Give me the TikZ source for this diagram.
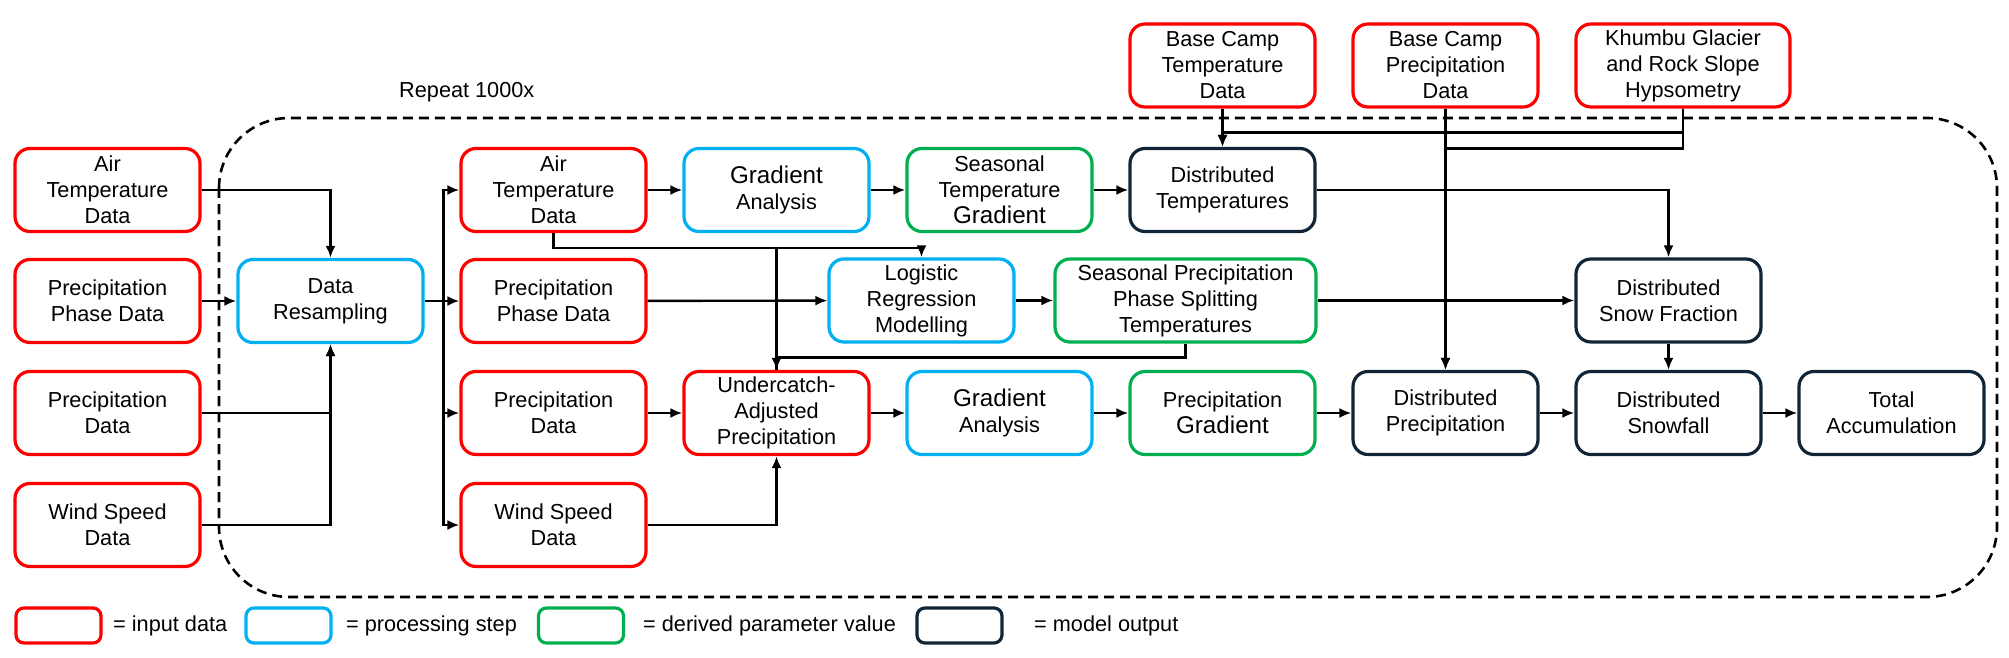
\documentclass[tikz,border=0pt]{standalone}
\usepackage{fontspec}
\setmainfont{Liberation Sans}
\usetikzlibrary{arrows.meta,calc}

\definecolor{inred}{RGB}{255,0,0}
\definecolor{procblue}{RGB}{0,176,240}
\definecolor{pargreen}{RGB}{0,176,80}
\definecolor{outnavy}{RGB}{16,37,56}
\newcommand{\Grad}{{\fontsize{12.1pt}{13pt}\selectfont Gradient}}

\begin{document}
\begin{tikzpicture}[x=0.5pt, y=-0.5pt, >={Latex[length=6pt,width=5pt]}, line width=1.2pt]
    \tikzstyle{box}=[rectangle, rounded corners=7.5pt, line width=1.6pt, fill=white, align=center, inner sep=2pt, minimum width=92.5pt, minimum height=41.5pt, font=\fontsize{10.85pt}{13pt}\selectfont, node distance=111.5pt]
    \tikzstyle{input}=[box, draw=inred]
    \tikzstyle{proc}=[box, draw=procblue]
    \tikzstyle{param}=[box, draw=pargreen]
    \tikzstyle{output}=[box, draw=outnavy]
    \tikzstyle{key}=[rectangle, minimum width=42.5pt, minimum height=17.5pt, rounded corners=4pt, line width=1.6pt]
    \tikzstyle{keytext}=[anchor=west, inner sep=0pt, font=\fontsize{10.85pt}{13pt}\selectfont]
    \useasboundingbox (0,0) rectangle (2009,658);

    % repeat loop
    \draw[line width=1.3pt, dash pattern=on 5pt off 3pt, rounded corners=35pt] (219,118) rectangle (1997,597);
    \node[keytext] (rep) at (398,92) {Repeat 1000x};

    % inputs on the left
    \node[input] (airT1) at (107.5,190) {Air\\Temperature\\Data};
    \node[input, node distance=55.5pt, below of=airT1] (phase1) {Precipitation\\Phase Data};
    \node[input, node distance=56pt, below of=phase1] (prec1) {Precipitation\\Data};
    \node[input, node distance=56pt, below of=prec1] (wind1) {Wind Speed\\Data};

    % resampling and the resampled data
    \node[proc, right of=phase1] (resamp) {Data\\Resampling};
    \node[input, node distance=223pt, right of=airT1] (airT2) {Air\\Temperature\\Data};
    \node[input, right of=resamp] (phase2) {Precipitation\\Phase Data};
    \node[input, node distance=223pt, right of=prec1] (prec2) {Precipitation\\Data};
    \node[input, node distance=223pt, right of=wind1] (wind2) {Wind Speed\\Data};

    % temperature chain
    \node[proc, right of=airT2] (gradT) {\Grad\\Analysis};
    \node[param, right of=gradT] (seasT) {Seasonal\\Temperature\\\Grad};
    \node[output, right of=seasT] (distT) {Distributed\\Temperatures};

    % phase chain
    \node[proc] (logreg) at (921.5,300.5) {Logistic\\Regression\\Modelling};
    \node[param, minimum width=130.5pt] (seasP) at (1185.5,300.5) {Seasonal Precipitation\\Phase Splitting\\Temperatures};

    % precipitation chain
    \node[input, right of=prec2] (under) {Undercatch-\\Adjusted\\Precipitation};
    \node[proc, right of=under] (gradP) {\Grad\\Analysis};
    \node[param, right of=gradP] (precgrad) {Precipitation\\\Grad};
    \node[output, right of=precgrad] (distP) {Distributed\\Precipitation};
    \node[output, right of=distP] (snowfall) {Distributed\\Snowfall};
    \node[output, right of=snowfall] (total) {Total\\Accumulation};
    \node[output, node distance=56.25pt, above of=snowfall] (snowfrac) {Distributed\\Snow Fraction};

    % base camp inputs
    \node[input, node distance=62.25pt, above of=distT] (bcT) {Base Camp\\Temperature\\Data};
    \node[input, right of=bcT] (bcP) {Base Camp\\Precipitation\\Data};
    \node[input, minimum width=107pt] (hyps) at (1683,65.5) {Khumbu Glacier\\and Rock Slope\\Hypsometry};

    % connectors
    \draw[->] (airT1.east) -| (resamp.north);
    \draw[->] (phase1) -- (resamp);
    \draw[->] (prec1.east) -| (resamp.south);
    \draw[->] (wind1.east) -| (resamp.south);
    \draw (resamp.east) -- ++(19,0) coordinate (bus);
    \draw[->] (bus) |- (airT2.west);
    \draw[->] (bus) -- (phase2);
    \draw[->] (bus) |- (prec2.west);
    \draw[->] (bus) |- (wind2.west);

    \draw[->] (airT2) -- (gradT);
    \draw[->] (gradT) -- (seasT);
    \draw[->] (seasT) -- (distT);
    \draw[->] (airT2.south) -- ++(0,15) -| (logreg.north);
    \draw[->] ([yshift=-7.5pt]airT2.south) -| (under.north);

    \draw[->] (phase2) -- (logreg);
    \draw[->] (logreg) -- (seasP);
    \draw[->] (seasP.east) -- (seasP.east -| snowfrac.west);
    \draw (seasP.south) -- ++(0,14) -| (under.north);
    \draw[->] (distT.east) -| (snowfrac.north);

    \draw[->] (prec2) -- (under);
    \draw[->] (wind2.east) -| (under.south);
    \draw[->] (under) -- (gradP);
    \draw[->] (gradP) -- (precgrad);
    \draw[->] (precgrad) -- (distP);
    \draw[->] (distP) -- (snowfall);
    \draw[->] (snowfall) -- (total);
    \draw[->] (snowfrac) -- (snowfall);

    \draw[->] (bcT) -- (distT);
    \draw[->] (hyps.south) -- ++(0,24) -| (distT.north);
    \draw[->] (bcP) -- (distP);
    \draw[->] (hyps.south) -- ++(0,40) -| (distP.north);

    % legend
    \node[key, draw=inred] (k1) at (58.5,625.5) {};
    \node[keytext] (k1t) at (112,625.5) {= input data};
    \node[key, draw=procblue] (k2) at (288.5,625.5) {};
    \node[keytext] (k2t) at (345,625.5) {= processing step};
    \node[key, draw=pargreen] (k3) at (581,625.5) {};
    \node[keytext] (k3t) at (642,625.5) {= derived parameter value};
    \node[key, draw=outnavy] (k4) at (959.5,625.5) {};
    \node[keytext] (k4t) at (1033,625.5) {= model output};
\end{tikzpicture}
\end{document}
